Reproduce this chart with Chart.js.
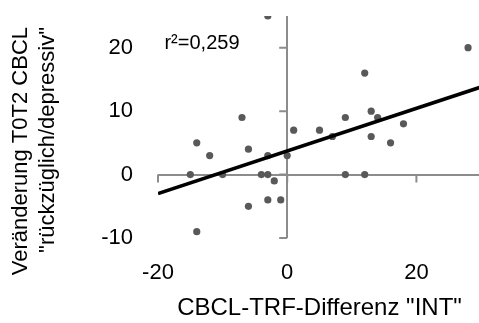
<!DOCTYPE html>
<html>
<head>
<meta charset="utf-8">
<script src="https://cdn.jsdelivr.net/npm/chart.js@4"></script>
<style>
  html, body { margin: 0; padding: 0; background: #fff; overflow: hidden; }
  #wrap { width: 485px; height: 323px; }
</style>
</head>
<body>
<div id="wrap"><canvas id="scatterChart"></canvas></div>
<script>
// CBCL-TRF difference (INT) vs. change T0-T2 (withdrawn/depressed)
const diffInt = [-3, -7, 1, 28, 12, 9, 13, 14, 18, 5, -14, -12, -6, -3, 0, -15, -10, -4, -3, -2, -6, -3, -1, -14, 7, 13, 16, 9, 12];
const changeT0T2 = [25, 9, 7, 20, 16, 9, 10, 9, 8, 7, 5, 3, 4, 3, 3, 0, 0, 0, 0, -1, -5, -4, -4, -9, 6, 6, 5, 0, 0];

// linear trend line end points
const trendX = [-20, 30];
const trendY = [-3.0, 13.8];

const xTicks = [-20, 0, 20];
const yTicks = [-10, 0, 10, 20];
const xTitle = 'CBCL-TRF-Differenz "INT"';
const yTitle = ['Veränderung T0T2 CBCL', '"rückzüglich/depressiv"'];
const rSquared = 'r²=0,259';

const FONT = '"Liberation Sans", Arial, sans-serif';
const axisGray = '#8c8c8c';

// axis lines cross at 0, so tick marks are drawn there by hand
const crossTicks = {
    id: 'crossTicks',
    beforeDatasetsDraw(chart) {
        const { ctx, scales: { x, y } } = chart;
        const x0 = x.getPixelForValue(0);
        const y0 = y.getPixelForValue(0);
        ctx.save();
        ctx.strokeStyle = axisGray;
        ctx.lineWidth = 2;
        ctx.beginPath();
        xTicks.forEach(v => {
            const px = x.getPixelForValue(v);
            ctx.moveTo(px, y0);
            ctx.lineTo(px, y0 + 8);
        });
        yTicks.forEach(v => {
            const py = y.getPixelForValue(v);
            ctx.moveTo(x0 - 8, py);
            ctx.lineTo(x0, py);
        });
        ctx.stroke();
        ctx.restore();
    },
    afterDraw(chart) {
        const { ctx, scales: { x, y } } = chart;
        ctx.save();
        ctx.fillStyle = '#000';
        // r² annotation
        ctx.font = '20px ' + FONT;
        ctx.textAlign = 'left';
        ctx.textBaseline = 'middle';
        ctx.fillText(rSquared, x.getPixelForValue(-19), y.getPixelForValue(20.6));
        // rotated y axis title, two lines
        ctx.font = '22px ' + FONT;
        ctx.textAlign = 'right';
        [21, 48].forEach((cx, i) => {
            ctx.save();
            ctx.translate(cx, 27);
            ctx.rotate(-Math.PI / 2);
            ctx.fillText(yTitle[i], 0, 0);
            ctx.restore();
        });
        ctx.restore();
    }
};

const zeroLine = ctx => (ctx.tick && ctx.tick.value === 0) ? axisGray : 'rgba(0,0,0,0)';

new Chart(document.getElementById('scatterChart').getContext('2d'), {
    type: 'scatter',
    data: {
        datasets: [
            {
                data: diffInt.map((v, i) => ({ x: v, y: changeT0T2[i] })),
                backgroundColor: '#595959',
                borderWidth: 0,
                pointRadius: 3.6,
                order: 2
            },
            {
                type: 'line',
                data: trendX.map((v, i) => ({ x: v, y: trendY[i] })),
                borderColor: '#000',
                borderWidth: 3.6,
                pointRadius: 0,
                fill: false,
                order: 1
            }
        ]
    },
    options: {
        responsive: true,
        maintainAspectRatio: false,
        animation: false,
        layout: { padding: { top: 16, right: 3, left: 0, bottom: 0 } },
        plugins: {
            legend: { display: false },
            tooltip: { enabled: false }
        },
        scales: {
            x: {
                type: 'linear',
                min: -20,
                max: 30,
                afterBuildTicks: axis => { axis.ticks = xTicks.map(v => ({ value: v })); },
                afterFit: axis => {
                    axis.height = 85;
                    axis.paddingLeft = 0;
                    axis.paddingRight = 0;
                },
                border: { display: false },
                grid: { color: zeroLine, lineWidth: 2, drawTicks: false },
                ticks: { color: '#000', font: { family: FONT, size: 22 }, padding: 22, maxRotation: 0 },
                title: {
                    display: true,
                    text: xTitle,
                    color: '#000',
                    font: { family: FONT, size: 24, lineHeight: 1.2 },
                    padding: { top: 0, bottom: 0 }
                }
            },
            y: {
                type: 'linear',
                min: -10,
                max: 25,
                afterBuildTicks: axis => { axis.ticks = yTicks.map(v => ({ value: v })); },
                afterFit: axis => {
                    axis.width = 158;
                    axis.paddingTop = 0;
                    axis.paddingBottom = 0;
                },
                border: { display: false },
                grid: { color: zeroLine, lineWidth: 2, drawTicks: false },
                ticks: { color: '#000', font: { family: FONT, size: 22 }, padding: 25 }
            }
        }
    },
    plugins: [crossTicks]
});
</script>
</body>
</html>
